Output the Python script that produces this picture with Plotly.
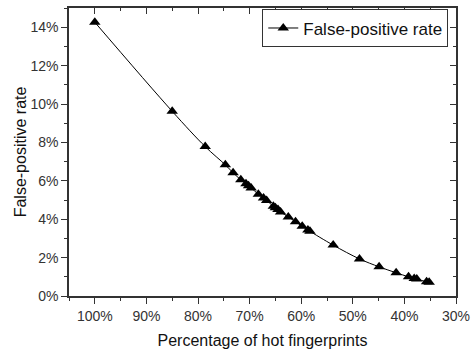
import plotly.graph_objects as go

hot_pct = [100, 85, 78.6, 74.7, 73.2, 71.7, 70.7, 70.2, 69.7, 68.3, 67.3, 66.7,
           65.4, 65.0, 64.5, 64.0, 62.5, 61.1, 59.8, 58.7, 58.3, 53.8, 48.7,
           44.9, 41.6, 39.2, 38.1, 37.6, 35.7, 35.2]
fp_rate = [14.26, 9.62, 7.78, 6.83, 6.42, 6.05, 5.84, 5.74, 5.63, 5.30, 5.10, 4.98,
           4.67, 4.59, 4.50, 4.38, 4.12, 3.87, 3.63, 3.44, 3.37, 2.65, 1.93,
           1.52, 1.21, 1.00, 0.91, 0.88, 0.74, 0.71]
x_ticks = [100, 90, 80, 70, 60, 50, 40, 30]
y_ticks = [0, 2, 4, 6, 8, 10, 12, 14]

font = "Liberation Sans, Arial, sans-serif"

fig = go.Figure()
fig.add_trace(go.Scatter(
    x=hot_pct, y=fp_rate, mode="lines+markers", name="False-positive rate",
    line=dict(color="black", width=1, shape="spline"),
    marker=dict(symbol="triangle-up", size=10, color="black"),
))

axis_common = dict(showgrid=False, zeroline=False, linecolor="#333", linewidth=1.5,
                   tickcolor="#333", tickwidth=1.2,
                   tickfont=dict(family=font, size=14, color="#333"))

fig.update_layout(
    width=476, height=354,
    margin=dict(l=69, r=15, t=6, b=58),
    plot_bgcolor="white", paper_bgcolor="white",
    font=dict(family=font, color="#333"),
    showlegend=True,
    legend=dict(x=0.98, y=0.995, xanchor="right", yanchor="top",
                bordercolor="#333", borderwidth=1, bgcolor="white",
                font=dict(family=font, size=17, color="#111")),
    xaxis=dict(range=[105, 30], tickvals=x_ticks, ticktext=[f"{v}%" for v in x_ticks],
               ticks="outside", ticklen=6, mirror=True, showline=True,
               minor=dict(ticks="outside", ticklen=3, dtick=5, tickcolor="#333"),
               title=dict(text="Percentage of hot fingerprints",
                          font=dict(family=font, size=16, color="#111"), standoff=12),
               **axis_common),
    yaxis=dict(range=[0, 15], tickvals=y_ticks, ticktext=[f"{v}%" for v in y_ticks],
               ticks="outside", ticklen=6, mirror=True, showline=True,
               minor=dict(ticks="outside", ticklen=3, dtick=1, tickcolor="#333"),
               title=dict(text="False-positive rate",
                          font=dict(family=font, size=16, color="#111"), standoff=0),
               **axis_common),
    xaxis2=dict(range=[105, 30], overlaying="x", side="top", tickvals=x_ticks,
                showticklabels=False, ticks="inside", ticklen=6, showgrid=False,
                zeroline=False, tickcolor="#333", tickwidth=1.2,
                minor=dict(ticks="inside", ticklen=3, dtick=5, tickcolor="#333")),
    yaxis2=dict(range=[0, 15], overlaying="y", side="right", tickvals=y_ticks,
                showticklabels=False, ticks="inside", ticklen=6, showgrid=False,
                zeroline=False, tickcolor="#333", tickwidth=1.2,
                minor=dict(ticks="inside", ticklen=3, dtick=1, tickcolor="#333")),
)
fig.add_trace(go.Scatter(x=[None], y=[None], xaxis="x2", yaxis="y2",
                         showlegend=False, hoverinfo="skip"))

fig.write_html("out.html")
